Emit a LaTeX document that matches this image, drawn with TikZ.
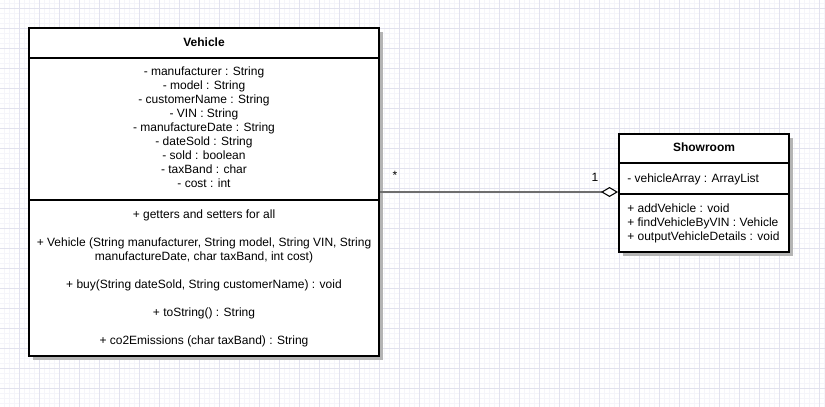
\documentclass[tikz,border=0pt]{standalone}
\usepackage{fontspec}
\setmainfont{Liberation Sans}
\usetikzlibrary{arrows.meta}
\definecolor{majorgrid}{HTML}{E2E2EE}
\definecolor{minorgrid}{HTML}{F5F5FA}
\definecolor{shadowgray}{HTML}{B4B4B4}
\definecolor{assocgray}{HTML}{6E6E6E}
\tikzset{
  majorline/.style={draw=majorgrid, line width=0.6pt},
  minorline/.style={draw=minorgrid, line width=0.4pt},
  umlbox/.style={draw=black, line width=1.5pt, fill=white, inner sep=0pt},
  shadowbox/.style={fill=shadowgray, draw=none},
  sepline/.style={draw=black, line width=1.5pt},
  shadowsep/.style={draw=shadowgray, line width=1.5pt},
  txt/.style={font=\fontsize{9}{10.5}\selectfont, inner sep=0pt, text height=6.5pt, text depth=1.8pt},
  ttl/.style={txt, font=\fontsize{9}{10.5}\selectfont\bfseries},
  assoc/.style={draw=assocgray, line width=1.1pt,
    -{Diamond[length=12.75pt, width=7.5pt, fill=white, color=black, line width=0.8pt]}},
}
\begin{document}
\begin{tikzpicture}[x=0.75pt, y=-0.75pt]
\useasboundingbox (0,0) rectangle (825,407);
\fill[white] (0,0) rectangle (825,407);
% grid
\foreach \x in {4,9,...,824} \draw[minorline] (\x,0) -- (\x,407);
\foreach \y in {3,8,...,407} \draw[minorline] (0,\y) -- (825,\y);
\foreach \x in {19,39,...,819} \draw[majorline] (\x,0) -- (\x,407);
\foreach \y in {8,28,...,408} \draw[majorline] (0,\y) -- (825,\y);

% shadows
\fill[shadowbox] (32.5,31.5) rectangle (382.5,359.5);
\draw[shadowsep] (32.5,61.5) -- (383,61.5);
\draw[shadowsep] (32.5,203.5) -- (383,203.5);
\fill[shadowbox] (622.5,137.5) rectangle (792.5,255.5);
\draw[shadowsep] (622.5,166.5) -- (793,166.5);
\draw[shadowsep] (622.5,197.5) -- (793,197.5);

% Vehicle class
\node[umlbox, minimum width=262.5pt, minimum height=246pt] (vehicle) at (204,192) {};
\draw[sepline] (29,58) -- (379,58);
\draw[sepline] (29,200) -- (379,200);
\node[ttl] (vtitle) at (204,43) {Vehicle};
\foreach \t [count=\i from 0] in {
  - manufacturer : String,
  - model : String,
  - customerName : String,
  - VIN : String,
  - manufactureDate : String,
  - dateSold : String,
  - sold : boolean,
  - taxBand : char,
  - cost : int}
  \node[txt] (va\i) at (204,{72.5+14*\i}) {\t};
\node[txt] (vm1) at (204,215) {+ getters and setters for all};
\node[txt] (vm2) at (204,243) {+ Vehicle (String manufacturer, String model, String VIN, String};
\node[txt] (vm3) at (204,257) {manufactureDate, char taxBand, int cost)};
\node[txt] (vm4) at (204,285) {+ buy(String dateSold, String customerName) : void};
\node[txt] (vm5) at (204,313) {+ toString() : String};
\node[txt] (vm6) at (204,341) {+ co2Emissions (char taxBand) : String};

% Showroom class
\node[umlbox, minimum width=127.5pt, minimum height=88.5pt] (showroom) at (704,193) {};
\draw[sepline] (619,163) -- (789,163);
\draw[sepline] (619,194) -- (789,194);
\node[ttl] (stitle) at (704,148) {Showroom};
\node[txt, anchor=west] (sa1) at (627,179) {- vehicleArray : ArrayList};
\node[txt, anchor=west] (sm1) at (627,209) {+ addVehicle : void};
\node[txt, anchor=west] (sm2) at (627,223) {+ findVehicleByVIN : Vehicle};
\node[txt, anchor=west] (sm3) at (627,237) {+ outputVehicleDetails : void};

% association
\draw[assoc] (vehicle.east) -- (vehicle.east -| showroom.west);
\node[txt] (mstar) at (395,176) {*};
\node[txt] (mone) at (595,178) {1};
\end{tikzpicture}
\end{document}
